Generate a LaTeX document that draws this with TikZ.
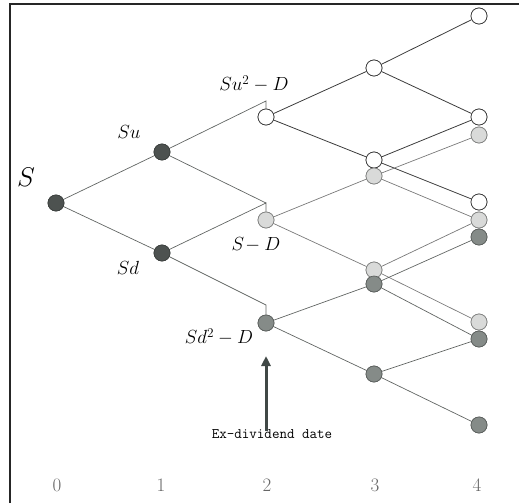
\documentclass[tikz,border=0pt]{standalone}
\usepackage{fix-cm}
\usepackage{fontspec}
\usetikzlibrary{arrows.meta}
\definecolor{dk}{HTML}{4D5250}
\definecolor{md}{HTML}{858B88}
\definecolor{lt}{HTML}{D9DAD9}
\definecolor{edgeA}{HTML}{3C3C3C}
\definecolor{edgeB}{HTML}{7A7A7A}
\definecolor{edgeC}{HTML}{626664}
\definecolor{arrowc}{HTML}{404846}
\begin{document}
\begin{tikzpicture}[x=1pt,y=-1pt,
  dotbase/.style={circle,inner sep=0pt,minimum size=16pt,line width=0.7pt},
  dnode/.style={dotbase,fill=dk,draw=dk!80!black},
  mnode/.style={dotbase,fill=md,draw=md!70!black},
  lnode/.style={dotbase,fill=lt,draw=lt!60!black},
  wnode/.style={dotbase,fill=white,draw=edgeA},
  ea/.style={draw=edgeA,line width=0.8pt},
  eb/.style={draw=edgeB,line width=0.7pt},
  ec/.style={draw=edgeC,line width=0.7pt},
  lab/.style={inner sep=0pt,font=\fontsize{19}{19}\selectfont},
  tlab/.style={inner sep=0pt,text=black!60,font=\fontsize{19}{19}\selectfont}]
\useasboundingbox (0,0) rectangle (519,503);
% frame
\draw[line width=1.4pt,black!85] (10,503) -- (10,4) -- (519,4);
% kink coordinates
\coordinate (ka) at (266,101);
\coordinate (kb) at (266,203);
\coordinate (kc) at (266,305);
% nodes
\node[dnode] (s0) at (56,203) {};
\node[dnode] (su) at (162,152) {};
\node[dnode] (sd) at (162,253) {};
\node[wnode] (a2) at (266,117) {};
\node[lnode] (b2) at (266,220) {};
\node[mnode] (c2) at (266,323) {};
\node[wnode] (a3u) at (374,68) {};
\node[wnode] (a3d) at (374,160) {};
\node[lnode] (b3u) at (374,176) {};
\node[lnode] (b3d) at (374,270) {};
\node[mnode] (c3u) at (374,284) {};
\node[mnode] (c3d) at (374,374) {};
\node[wnode] (a4a) at (479,16) {};
\node[wnode] (a4b) at (479,117) {};
\node[lnode] (b4a) at (479,135) {};
\node[wnode] (a4c) at (479,202) {};
\node[lnode] (b4b) at (479,220) {};
\node[mnode] (c4a) at (479,237) {};
\node[lnode] (b4c) at (479,322) {};
\node[mnode] (c4b) at (479,339) {};
\node[mnode] (c4c) at (479,425) {};
% edges
\draw[ec] (s0) -- (su);
\draw[ec] (s0) -- (sd);
\draw[ec] (su) -- (ka) -- (a2.north);
\draw[ec] (su) -- (kb);
\draw[ec] (sd) -- (kb) -- (b2.north);
\draw[ec] (sd) -- (kc) -- (c2.north);
\draw[ea] (a2) -- (a3u);
\draw[ea] (a2) -- (a3d);
\draw[ea] (a3u) -- (a4a);
\draw[ea] (a3u) -- (a4b);
\draw[ea] (a3d) -- (a4b);
\draw[ea] (a3d) -- (a4c);
\draw[eb] (b2) -- (b3u);
\draw[eb] (b2) -- (b3d);
\draw[eb] (b3u) -- (b4a);
\draw[eb] (b3u) -- (b4b);
\draw[eb] (b3d) -- (b4b);
\draw[eb] (b3d) -- (b4c);
\draw[ec] (c2) -- (c3u);
\draw[ec] (c2) -- (c3d);
\draw[ec] (c3u) -- (c4a);
\draw[ec] (c3u) -- (c4b);
\draw[ec] (c3d) -- (c4b);
\draw[ec] (c3d) -- (c4c);
% redraw nodes on top of the connectors
\foreach \n/\s in {s0/dnode,su/dnode,sd/dnode,a2/wnode,b2/lnode,c2/mnode,a3u/wnode,a3d/wnode,b3u/lnode,b3d/lnode,c3u/mnode,c3d/mnode,a4a/wnode,a4b/wnode,b4a/lnode,a4c/wnode,b4b/lnode,c4a/mnode,b4c/lnode,c4b/mnode,c4c/mnode}
  {\node[\s] at (\n) {};}
% labels
\node[lab,font=\fontsize{27}{27}\selectfont] (ls) at (26,177) {$S$};
\node[lab] (lsu) at (129,132) {$Su$};
\node[lab] (lsd) at (128,268) {$Sd$};
\node[lab] (la2) at (254,84) {$Su^2-D$};
\node[lab] (lb2) at (256,245) {$S\!-D$};
\node[lab] (lc2) at (219,337) {$Sd^2-D$};
\node[inner sep=0pt,font=\ttfamily\fontsize{14.6}{14.6}\selectfont] (ex) at (272,434) {Ex-dividend date};
\coordinate (tip) at (266,356);
\draw[arrowc,line width=3pt,-{Triangle[width=9pt,length=10pt]}] ([yshift=-2pt]c2 |- ex.north) -- (tip);
% time axis
\node[tlab] (t0) at (57,485) {0};
\node[tlab] (t1) at (161,485) {1};
\node[tlab] (t2) at (267,485) {2};
\node[tlab] (t3) at (375,485) {3};
\node[tlab] (t4) at (477,485) {4};
\end{tikzpicture}
\end{document}
